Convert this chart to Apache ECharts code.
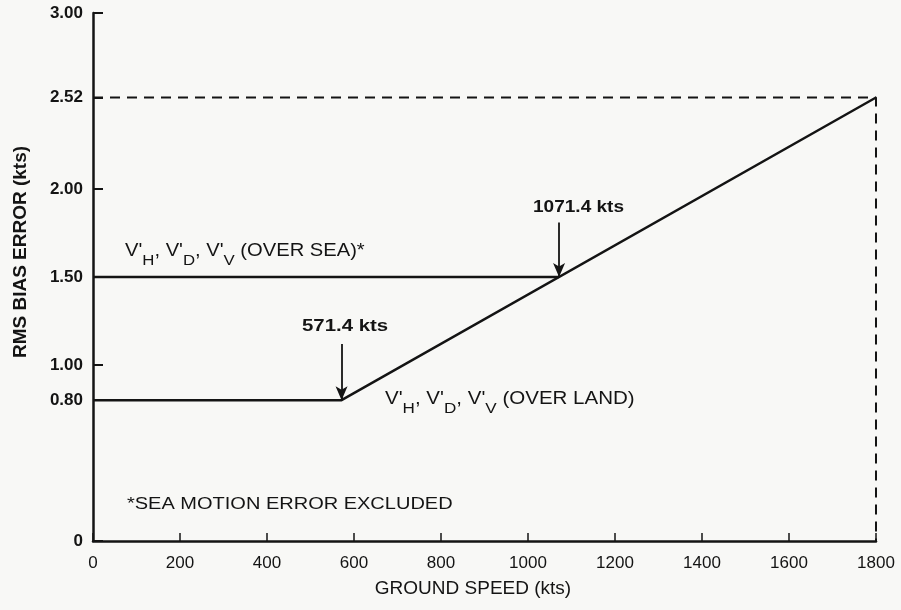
<!DOCTYPE html>
<html><head><meta charset="utf-8">
<script src="https://cdn.jsdelivr.net/npm/echarts@6/dist/echarts.min.js"></script>
<style>html,body{margin:0;padding:0;background:#f8f8f6}#c{width:901px;height:610px}</style>
</head><body><div id="c"></div>
<script>
// Data
const overLand = [[0, 0.80], [571.4, 0.80], [1800, 2.52]];
const overSea = [[0, 1.50], [1071.4, 1.50]];
const maxLevel = 2.52;
const maxSpeed = 1800;
const breakLand = 571.4;
const breakSea = 1071.4;
const yTickValues = [0, 0.80, 1.00, 1.50, 2.00, 2.52, 3.00];
const xTickInterval = 200;

const FONT = 'Liberation Sans';
const INK = '#141414';
const chart = echarts.init(document.getElementById('c'), null, {renderer: 'canvas'});
const ax = {lineStyle: {color: INK, width: 2.5}};
const rich = {
  n: {font: `18px "${FONT}"`, fill: INK},
  s: {font: `15px "${FONT}"`, fill: INK, verticalAlign: 'bottom', padding: [0, 0, -8, 0]}
};
chart.setOption({
  backgroundColor: '#f8f8f6',
  animation: false,
  grid: {left: 93, right: 25, top: 13, bottom: 69},
  xAxis: {
    type: 'value', min: 0, max: 1800, interval: xTickInterval,
    axisLine: ax,
    axisTick: {inside: true, length: 8, lineStyle: {color: INK, width: 1.5}},
    axisLabel: {color: INK, fontFamily: FONT, fontSize: 17, margin: 14, formatter: v => String(v)},
    splitLine: {show: false}
  },
  yAxis: {
    type: 'value', min: 0, max: 3,
    axisLine: ax,
    axisTick: {inside: true, length: 10, customValues: yTickValues, lineStyle: {color: INK, width: 2}},
    axisLabel: {color: INK, fontFamily: FONT, fontSize: 17, fontWeight: 'bold', margin: 10, customValues: yTickValues,
      formatter: v => v === 0 ? '0' : v.toFixed(2)},
    splitLine: {show: false}
  },
  series: [
    {type: 'line', data: overLand, symbol: 'none', lineStyle: {color: INK, width: 2.5}},
    {type: 'line', data: overSea, symbol: 'none', lineStyle: {color: INK, width: 2.5}},
    {type: 'line', data: [[0, maxLevel], [maxSpeed, maxLevel], [maxSpeed, 0]], symbol: 'none',
      lineStyle: {color: INK, width: 2, type: [10, 7]},
      markLine: {
        silent: true, symbol: ['none', 'arrow'], symbolSize: [9, 14],
        lineStyle: {color: INK, width: 1.8, type: 'solid'},
        label: {show: false},
        data: [
          [{coord: [breakLand, 1.12]}, {coord: [breakLand, 0.80]}],
          [{coord: [breakSea, 1.81]}, {coord: [breakSea, 1.50]}]
        ]
      }
    }
  ],
  graphic: [
    {type: 'text', x: 21, y: 252, rotation: Math.PI / 2,
      style: {text: 'RMS BIAS ERROR (kts)', font: `bold 19px "${FONT}"`, fill: INK, align: 'center', verticalAlign: 'middle'}},
    {type: 'text', x: 473, y: 589,
      style: {text: 'GROUND SPEED (kts)', font: `19px "${FONT}"`, fill: INK, align: 'center', verticalAlign: 'middle'}},
    {type: 'text', x: 533, y: 207, scaleX: 1.12,
      style: {text: '1071.4 kts', font: `bold 17px "${FONT}"`, fill: INK, verticalAlign: 'middle'}},
    {type: 'text', x: 302, y: 326, scaleX: 1.2,
      style: {text: '571.4 kts', font: `bold 17px "${FONT}"`, fill: INK, verticalAlign: 'middle'}},
    {type: 'text', x: 125, y: 242, scaleX: 1.12, style: {rich,
      text: "{n|V'}{s|H}{n|, V'}{s|D}{n|, V'}{s|V}{n| (OVER SEA)*}"}},
    {type: 'text', x: 385, y: 390, scaleX: 1.14, style: {rich,
      text: "{n|V'}{s|H}{n|, V'}{s|D}{n|, V'}{s|V}{n| (OVER LAND)}"}},
    {type: 'text', x: 127, y: 505, scaleX: 1.25,
      style: {text: '*SEA MOTION ERROR EXCLUDED', font: `16px "${FONT}"`, fill: INK, verticalAlign: 'middle'}}
  ]
});
</script></body></html>
